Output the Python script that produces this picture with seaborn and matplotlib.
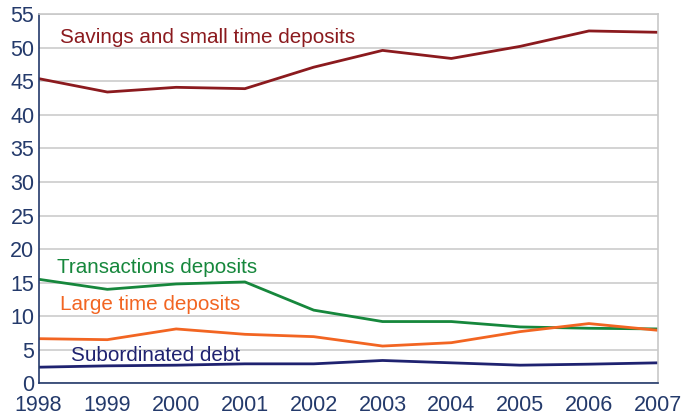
import pandas as pd
import seaborn as sns
import matplotlib.pyplot as plt

years = list(range(1998, 2008))

savings = [45.4, 43.4, 44.1, 43.9, 47.1, 49.6, 48.4, 50.2, 52.5, 52.3]
transactions = [15.5, 14.0, 14.8, 15.1, 10.9, 9.2, 9.2, 8.4, 8.2, 8.1]
large_time = [6.65, 6.5, 8.1, 7.3, 6.95, 5.55, 6.05, 7.7, 8.9, 7.9]
subordinated = [2.4, 2.6, 2.7, 2.9, 2.9, 3.4, 3.05, 2.7, 2.85, 3.05]

series_names = ["Savings and small time deposits", "Transactions deposits",
                "Large time deposits", "Subordinated debt"]

df = pd.DataFrame({
    "year": years * 4,
    "value": savings + transactions + large_time + subordinated,
    "series": [n for n in series_names for _ in years],
})

colors = {
    "Savings and small time deposits": "#8b1a1e",
    "Transactions deposits": "#16873c",
    "Large time deposits": "#f26522",
    "Subordinated debt": "#1f2270",
}

sns.set_style("white")
plt.rcParams["font.family"] = ["Liberation Sans", "DejaVu Sans"]

fig = plt.figure(figsize=(6.88, 4.19), dpi=100)
ax = fig.add_axes([0.056, 0.0852, 0.9, 0.881])

sns.lineplot(data=df, x="year", y="value", hue="series", palette=colors,
             linewidth=2, legend=False, ax=ax)

# series labels
label_pos = {
    "Savings and small time deposits": (1998.31, 51.5),
    "Transactions deposits": (1998.27, 17.3),
    "Large time deposits": (1998.31, 11.7),
    "Subordinated debt": (1998.47, 4.2),
}
for name, (x, y) in label_pos.items():
    ax.text(x, y, name, color=colors[name], fontsize=14.9, va="center", ha="left")

ax.set_xlim(1998, 2007)
ax.set_ylim(0, 55)
ax.set_xticks(years)
ax.set_yticks(range(0, 56, 5))
ax.yaxis.grid(True, color="#d3d3d3", linewidth=1.4)
ax.set_axisbelow(True)
ax.set_xlabel("")
ax.set_ylabel("")

tick_col = "#243a6b"
ax.tick_params(axis="x", direction="in", length=5, width=1, color=tick_col,
               labelcolor=tick_col, labelsize=15.5, pad=8.5)
ax.tick_params(axis="y", length=0, labelcolor=tick_col, labelsize=15.5, pad=3)

ax.spines["left"].set_color(tick_col)
ax.spines["bottom"].set_color(tick_col)
ax.spines["top"].set_color("#c8c8c8")
ax.spines["right"].set_color("#c8c8c8")
for s in ax.spines.values():
    s.set_linewidth(1.2)

fig.savefig("out.png", dpi=100)
